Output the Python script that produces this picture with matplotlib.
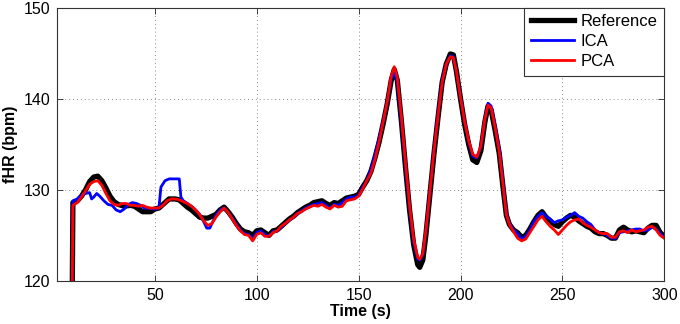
import matplotlib
matplotlib.use("Agg")
import matplotlib.pyplot as plt

plt.rcParams['font.family'] = ['Liberation Sans', 'DejaVu Sans']

# ---- data ----
ref_t = [9.5, 9.8, 12, 14, 16, 18, 20, 22, 24, 26, 28, 30, 32, 35, 38, 40, 42, 44, 46, 48, 50, 52, 55, 57, 60, 62, 64, 66, 68, 70, 72, 74, 76, 78, 80, 82, 84, 86, 88, 90, 92, 94, 96, 98, 100, 102, 104, 106, 108, 110, 112, 114, 116, 118, 120, 122, 124, 126, 128, 130, 132, 134, 136, 138, 140, 142, 144, 146, 148, 150, 152, 154, 156, 158, 160, 162, 164, 166, 167.5, 169, 171, 173, 175, 177, 179, 180, 181.5, 183, 185, 187, 189, 191, 193, 195, 196.5, 198, 200, 202, 204, 206, 208, 210, 212, 213.5, 215, 217, 219, 221, 222.5, 224, 226, 228, 230, 232, 234, 236, 238, 240, 242, 244, 246, 248, 250, 252, 254, 256, 258, 260, 262, 264, 266, 268, 270, 272, 274, 276, 278, 280, 282, 284, 286, 288, 290, 292, 294, 296, 298, 300]
ref_v = [119.5, 128.6, 128.8, 129.3, 130.0, 130.9, 131.4, 131.5, 131.0, 130.2, 129.3, 128.7, 128.4, 128.2, 128.3, 128.2, 127.9, 127.6, 127.6, 127.6, 127.9, 128.0, 128.6, 129.0, 129.0, 128.9, 128.5, 128.1, 127.8, 127.4, 127.0, 126.9, 126.9, 127.1, 127.3, 127.8, 128.1, 127.6, 127.0, 126.3, 125.7, 125.4, 125.3, 125.0, 125.5, 125.6, 125.3, 125.0, 125.5, 125.6, 126.0, 126.4, 126.8, 127.1, 127.5, 127.8, 128.1, 128.3, 128.6, 128.7, 128.8, 128.5, 128.3, 128.6, 128.5, 128.8, 129.1, 129.2, 129.3, 129.5, 130.3, 131.0, 132.0, 133.5, 135.2, 137.2, 139.4, 142.0, 143.2, 142.0, 137.5, 132.5, 127.8, 124.0, 121.8, 121.5, 122.3, 125.0, 129.5, 134.0, 138.0, 141.8, 143.8, 144.9, 144.8, 143.0, 140.0, 137.2, 135.0, 133.3, 133.0, 134.3, 137.5, 139.2, 138.8, 136.5, 134.0, 130.0, 127.2, 126.2, 125.6, 125.3, 124.8, 125.0, 125.7, 126.5, 127.2, 127.6, 127.0, 126.6, 126.2, 126.0, 126.5, 126.9, 127.2, 127.0, 126.6, 126.3, 126.0, 125.8, 125.4, 125.2, 125.2, 125.0, 124.7, 124.7, 125.6, 125.9, 125.6, 125.4, 125.5, 125.4, 125.3, 125.8, 126.1, 126.1, 125.3, 124.9]

ica_t = [9.5, 9.8, 12, 14, 16, 18, 19, 20, 21.5, 23, 25, 27, 29, 31, 33, 35, 37, 39, 41, 43, 45, 47, 49, 51, 52, 53, 55, 57, 59, 62, 62.8, 64, 66, 68, 70, 72, 74, 75.5, 77, 78, 80, 82, 84, 86, 88, 90, 92, 94, 96, 98, 100, 102, 104, 106, 108, 110, 112, 114, 116, 118, 120, 122, 124, 126, 128, 130, 132, 134, 136, 138, 140, 142, 144, 146, 148, 150, 152, 154, 156, 158, 160, 162, 164, 166, 167.5, 169, 171, 173, 175, 177, 179, 180, 181.5, 183, 185, 187, 189, 191, 193, 195, 196.5, 198, 200, 202, 204, 206, 208, 210, 212, 213.5, 215, 217, 219, 221, 222.5, 224, 226, 228, 230, 232, 234, 236, 238, 240, 242, 244, 246, 248, 250, 252, 254, 256, 258, 260, 262, 264, 266, 268, 270, 272, 274, 276, 278, 280, 282, 284, 286, 288, 290, 292, 294, 296, 298, 300]
ica_v = [119.5, 128.8, 129.0, 129.4, 129.6, 129.7, 129.0, 129.2, 129.6, 129.3, 128.8, 128.4, 128.3, 127.8, 127.6, 127.9, 128.4, 128.6, 128.5, 128.3, 128.0, 128.0, 127.9, 127.9, 128.0, 130.3, 131.0, 131.2, 131.2, 131.2, 129.2, 128.8, 128.5, 128.2, 127.8, 127.3, 126.5, 125.8, 125.8, 126.3, 127.2, 127.8, 128.0, 127.5, 126.9, 126.2, 125.6, 125.2, 125.1, 124.6, 125.3, 125.5, 125.1, 124.9, 125.4, 125.5, 125.9, 126.3, 126.7, 127.0, 127.4, 127.7, 128.0, 128.2, 128.4, 128.5, 128.6, 128.3, 128.0, 128.4, 128.3, 128.6, 129.0, 129.2, 129.2, 129.4, 130.3, 131.0, 132.2, 133.8, 135.6, 137.5, 139.6, 142.2, 143.0, 141.8, 137.6, 132.6, 128.0, 124.3, 122.4, 122.3, 122.9, 125.4, 129.8, 134.4, 138.4, 142.0, 143.8, 144.7, 144.6, 143.0, 140.2, 137.5, 135.3, 133.7, 133.5, 134.7, 137.8, 139.5, 139.2, 137.0, 134.5, 130.5, 127.4, 126.3, 125.6, 125.2, 124.6, 124.9, 125.6, 126.5, 127.1, 127.5, 127.1, 126.8, 126.4, 126.6, 126.7, 127.0, 127.2, 127.5, 127.1, 126.9, 126.5, 126.2, 125.6, 125.3, 125.2, 125.0, 124.7, 124.7, 125.3, 125.4, 125.5, 125.6, 125.7, 125.7, 125.5, 125.6, 125.9, 125.7, 125.2, 124.8]

pca_t = [9.5, 9.8, 12, 14, 16, 18, 20, 22, 24, 26, 28, 30, 32, 34, 36, 38, 40, 42, 44, 46, 48, 50, 52, 54, 56, 58, 60, 62, 64, 66, 68, 70, 72, 74, 76, 78, 80, 82, 84, 86, 88, 90, 92, 94, 96, 98, 100, 102, 104, 106, 108, 110, 112, 114, 116, 118, 120, 122, 124, 126, 128, 130, 132, 134, 136, 138, 140, 142, 144, 146, 148, 150, 152, 154, 156, 158, 160, 162, 164, 166, 167.5, 169, 171, 173, 175, 177, 179, 180, 181.5, 183, 185, 187, 189, 191, 193, 195, 196.5, 198, 200, 202, 204, 206, 208, 210, 212, 213.5, 215, 217, 219, 221, 222.5, 224, 226, 228, 230, 232, 234, 236, 238, 240, 242, 244, 246, 248, 250, 252, 254, 256, 258, 260, 262, 264, 266, 268, 270, 272, 274, 276, 278, 280, 282, 284, 286, 288, 290, 292, 294, 296, 298, 300]
pca_v = [119.5, 128.3, 128.6, 129.2, 129.9, 130.6, 130.9, 131.0, 130.5, 129.6, 128.8, 128.4, 128.3, 128.5, 128.5, 128.3, 128.3, 128.2, 128.3, 128.1, 128.0, 128.0, 128.0, 128.3, 128.8, 129.0, 129.0, 128.9, 128.7, 128.5, 128.2, 127.8, 127.3, 126.6, 126.1, 126.3, 127.0, 127.6, 128.0, 127.5, 126.8, 126.1, 125.5, 125.1, 125.0, 124.4, 125.1, 125.3, 124.9, 124.9, 125.3, 125.5, 126.0, 126.3, 126.7, 127.0, 127.4, 127.6, 127.9, 128.1, 128.3, 128.2, 128.4, 128.1, 127.9, 128.3, 128.1, 128.2, 128.8, 128.9, 129.0, 129.3, 130.1, 131.0, 131.8, 133.3, 135.2, 137.4, 139.6, 142.5, 143.5, 142.3, 138.0, 133.0, 128.3, 124.6, 122.6, 122.4, 123.0, 125.5, 129.8, 134.3, 138.2, 141.8, 143.8, 144.6, 144.5, 143.0, 140.1, 137.5, 135.4, 133.9, 133.6, 134.8, 137.8, 139.3, 139.0, 136.8, 134.2, 130.3, 127.3, 126.2, 125.4, 124.7, 124.4, 124.6, 125.3, 126.0, 126.7, 127.1, 126.5, 126.0, 125.6, 125.1, 125.6, 126.1, 126.5, 126.7, 126.8, 126.4, 126.1, 125.9, 125.6, 125.3, 125.2, 125.2, 124.8, 124.8, 125.4, 125.5, 125.3, 125.6, 125.4, 125.5, 125.6, 125.9, 126.0, 125.6, 125.0, 124.7]

series_labels = ['Reference', 'ICA', 'PCA']
x_ticks = [50, 100, 150, 200, 250, 300]
y_ticks = [120, 130, 140, 150]

# ---- figure ----
fig = plt.figure(figsize=(6.8, 3.24), dpi=100)
ax = fig.add_axes([57/680, 43/324, (664.3-57)/680, (281-7.5)/324])

ax.plot(ref_t, ref_v, color='black', lw=3.8, label=series_labels[0])
ax.plot(ica_t, ica_v, color='#0000ff', lw=2.0, label=series_labels[1])
ax.plot(pca_t, pca_v, color='#ff0000', lw=2.0, label=series_labels[2])

ax.set_xlim(2, 300)
ax.set_ylim(120, 150)
ax.set_xticks(x_ticks)
ax.set_yticks(y_ticks)
ax.tick_params(direction='in', top=True, right=True, length=4, width=0.6,
               labelsize=11.5, colors='#222222', labelcolor='black', pad=5)
for sp in ax.spines.values():
    sp.set_linewidth(0.8)
    sp.set_color('#333333')
ax.grid(True, linestyle=(0, (1, 3)), color='#888888', lw=0.7)

ax.set_xlabel('Time (s)', fontsize=11.5, fontweight='bold', labelpad=1)
ax.set_ylabel('fHR (bpm)', fontsize=11.5, fontweight='bold', labelpad=4)

leg = ax.legend(loc='upper right', borderaxespad=0, fontsize=12, frameon=True,
                fancybox=False, edgecolor='#333333', framealpha=1,
                handlelength=2.6, handletextpad=0.4, labelspacing=0.3,
                borderpad=0.4)
leg.get_frame().set_linewidth(0.8)

fig.savefig('out.png', dpi=100)
